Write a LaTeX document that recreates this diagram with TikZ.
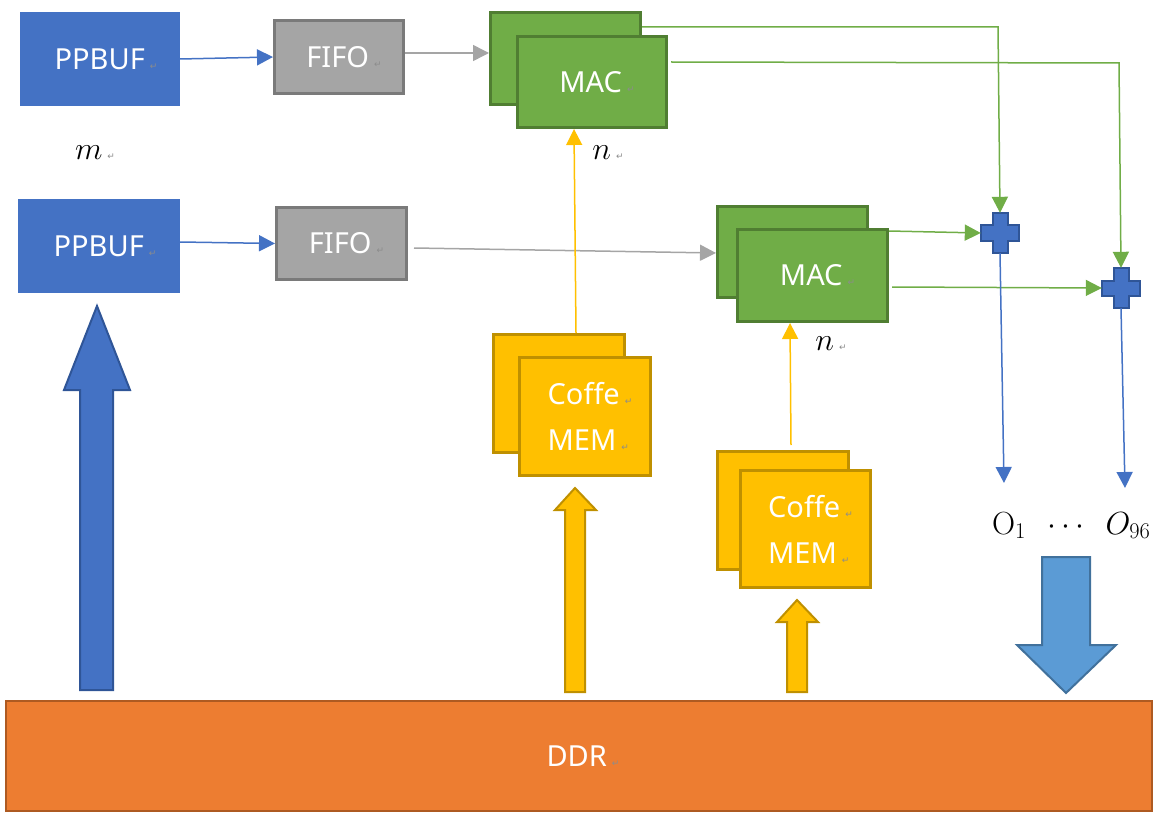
\RequirePackage{fix-cm}
\documentclass[tikz,border=0pt]{standalone}
\usepackage[no-math]{fontspec}
\setmainfont{Noto Sans}
\newfontfamily\dejavu{DejaVu Sans}
\usetikzlibrary{arrows.meta}
\definecolor{ppblue}{HTML}{4472C4}
\definecolor{ppbord}{HTML}{2F5597}
\definecolor{fgray}{HTML}{A5A5A5}
\definecolor{fgrayd}{HTML}{7A7A7A}
\definecolor{mgreen}{HTML}{70AD47}
\definecolor{mgreend}{HTML}{507E32}
\definecolor{myel}{HTML}{FFC000}
\definecolor{myeld}{HTML}{BF9000}
\definecolor{ddrc}{HTML}{ED7D31}
\definecolor{ddrd}{HTML}{AE5A21}
\definecolor{lblue}{HTML}{5B9BD5}
\definecolor{lblued}{HTML}{41719C}
\definecolor{retgray}{HTML}{8C8C8C}
\newcommand\rmk{\hspace{5pt}{\dejavu\fontsize{9}{9}\selectfont\color{retgray}↵}}
\newcommand\lpad[1]{\hspace*{#1}}
\tikzset{
  blk/.style={inner sep=0pt, text=white, font=\fontsize{29}{46}\selectfont},
  ppbuf/.style={blk, fill=ppblue, draw=none},
  fifo/.style={blk, fill=fgray, draw=fgrayd, line width=3pt},
  mac/.style={blk, fill=mgreen, draw=mgreend, line width=3pt},
  mem/.style={blk, fill=myel, draw=myeld, line width=3pt, align=left},
  ddrbox/.style={blk, fill=ddrc, draw=ddrd, line width=2.5pt},
  barrow/.style={draw=ppblue, line width=1.5pt, -{Triangle[length=16pt,width=16pt]}},
  grarrow/.style={draw=fgray, line width=1.5pt, -{Triangle[length=16pt,width=16pt]}},
  garrow/.style={draw=mgreen, line width=1.5pt, -{Triangle[length=16pt,width=16pt]}},
  yarrow/.style={draw=myel, line width=1.5pt, -{Triangle[length=16pt,width=16pt]}},
  plusst/.style={fill=ppblue, draw=ppbord, line width=2pt, line join=miter},
  lbl/.style={inner sep=0pt, font=\fontsize{32}{32}\selectfont},
  blockarrow/.style={line width=2pt, line join=miter},
}
\begin{document}
\begin{tikzpicture}[x=1pt,y=-1pt]
\useasboundingbox (0,0) rectangle (1159,821);
% PPBUF and FIFO
\node[ppbuf, minimum width=160pt, minimum height=94pt] (P1) at (100,59) {\lpad{12pt}PPBUF\rmk};
\node[ppbuf, minimum width=162pt, minimum height=94pt] (P2) at (99,246) {\lpad{12pt}PPBUF\rmk};
\node[fifo, minimum width=129pt, minimum height=73pt] (F1) at (339,57) {\lpad{10pt}FIFO\rmk};
\node[fifo, minimum width=130pt, minimum height=72pt] (F2) at (341.5,243.5) {\lpad{10pt}FIFO\rmk};
\node[lbl] (m) at (95,153) {$m$\rmk};
% MACs
\node[mac, minimum width=150pt, minimum height=92pt] (M1b) at (565.5,58.5) {};
\node[mac, minimum width=149pt, minimum height=91pt] (M1) at (592,82) {\lpad{10pt}MAC\rmk};
\node[mac, minimum width=150pt, minimum height=91pt] (M2b) at (792.5,252) {};
\node[mac, minimum width=150pt, minimum height=92pt] (M2) at (812.5,275.5) {\lpad{10pt}MAC\rmk};
\node[lbl] (n1) at (608,153) {$n$\rmk};
\node[lbl] (n2) at (831,344) {$n$\rmk};
% Coffe MEM
\node[mem, minimum width=131pt, minimum height=118pt] (C1b) at (559,393.5) {};
\node[mem, minimum width=131pt, minimum height=118pt] (C1) at (585,416.5) {\lpad{10pt}Coffe\rmk\\\lpad{10pt}MEM\rmk};
\node[mem, minimum width=131pt, minimum height=118pt] (C2b) at (783,510.5) {};
\node[mem, minimum width=130pt, minimum height=117pt] (C2) at (805.5,529) {\lpad{10pt}Coffe\rmk\\\lpad{10pt}MEM\rmk};
% DDR
\node[ddrbox, minimum width=1146pt, minimum height=110pt] (DDR) at (579,756) {\lpad{8pt}DDR\rmk};
% plus nodes
\node[inner sep=0pt, minimum width=38pt, minimum height=40pt] (S1) at (1000,233) {};
\node[inner sep=0pt, minimum width=38pt, minimum height=40pt] (S2) at (1121,288) {};
\foreach \s in {S1,S2}{
  \draw[plusst, shift={(\s.center)}] (-7.5,-20) -- (7.5,-20) -- (7.5,-7.5) -- (19,-7.5) -- (19,7.5) -- (7.5,7.5) -- (7.5,20) -- (-7.5,20) -- (-7.5,7.5) -- (-19,7.5) -- (-19,-7.5) -- (-7.5,-7.5) -- cycle;
}
% outputs
\node[lbl, anchor=base] (O1) at (1009,534) {$\mathrm{O}_1$};
\node[lbl, anchor=base] (dots) at (1066,534) {$\cdots$};
\node[lbl, anchor=base] (O96) at (1128,534) {$O_{96}$};
\coordinate (e1) at (1004,483);
\coordinate (e2) at (1125,488);
% connectors
\draw[barrow] (P1.east) -- (F1.west);
\draw[barrow] (P2.east |- 0,242) -- (F2.west);
\draw[grarrow] (F1.east |- 0,53) -- (M1b.west |- 0,53);
\draw[grarrow] ([xshift=6pt]F2.east |- 0,248) -- (M2b.west |- 0,253);
\draw[yarrow] (C1b.north -| 576,0) -- (M1.south -| 574,0);
\draw[yarrow] (791,445) -- (M2.south -| 790,0);
\draw[garrow] (M1b.east |- 0,27) -- (998,27) -- (S1.north);
\draw[garrow] ([xshift=3pt]M1.east |- 0,62) -- (1119,63) -- (S2.north);
\draw[garrow] (M2.east |- 0,231) -- (S1.west);
\draw[garrow] ([xshift=3pt]M2.east |- 0,287) -- (S2.west);
\draw[barrow] (S1.south) -- (e1);
\draw[barrow] (S2.south) -- (e2);
% block arrows
\draw[blockarrow, fill=ppblue, draw=ppbord] (80,690) -- (80,390) -- (64,390) -- (97,306) -- (130,390) -- (113,390) -- (113,690) -- cycle;
\draw[blockarrow, fill=lblue, draw=lblued] (1042,557) -- (1090,557) -- (1090,645) -- (1116,645) -- (1066,693) -- (1017,645) -- (1042,645) -- cycle;
\draw[blockarrow, fill=myel, draw=myeld] (565,692) -- (565,510) -- (555,510) -- (575,488) -- (596,510) -- (585,510) -- (585,692) -- cycle;
\draw[blockarrow, fill=myel, draw=myeld] (787,692) -- (787,622) -- (777,622) -- (797,600) -- (818,622) -- (807,622) -- (807,692) -- cycle;
\end{tikzpicture}
\end{document}
